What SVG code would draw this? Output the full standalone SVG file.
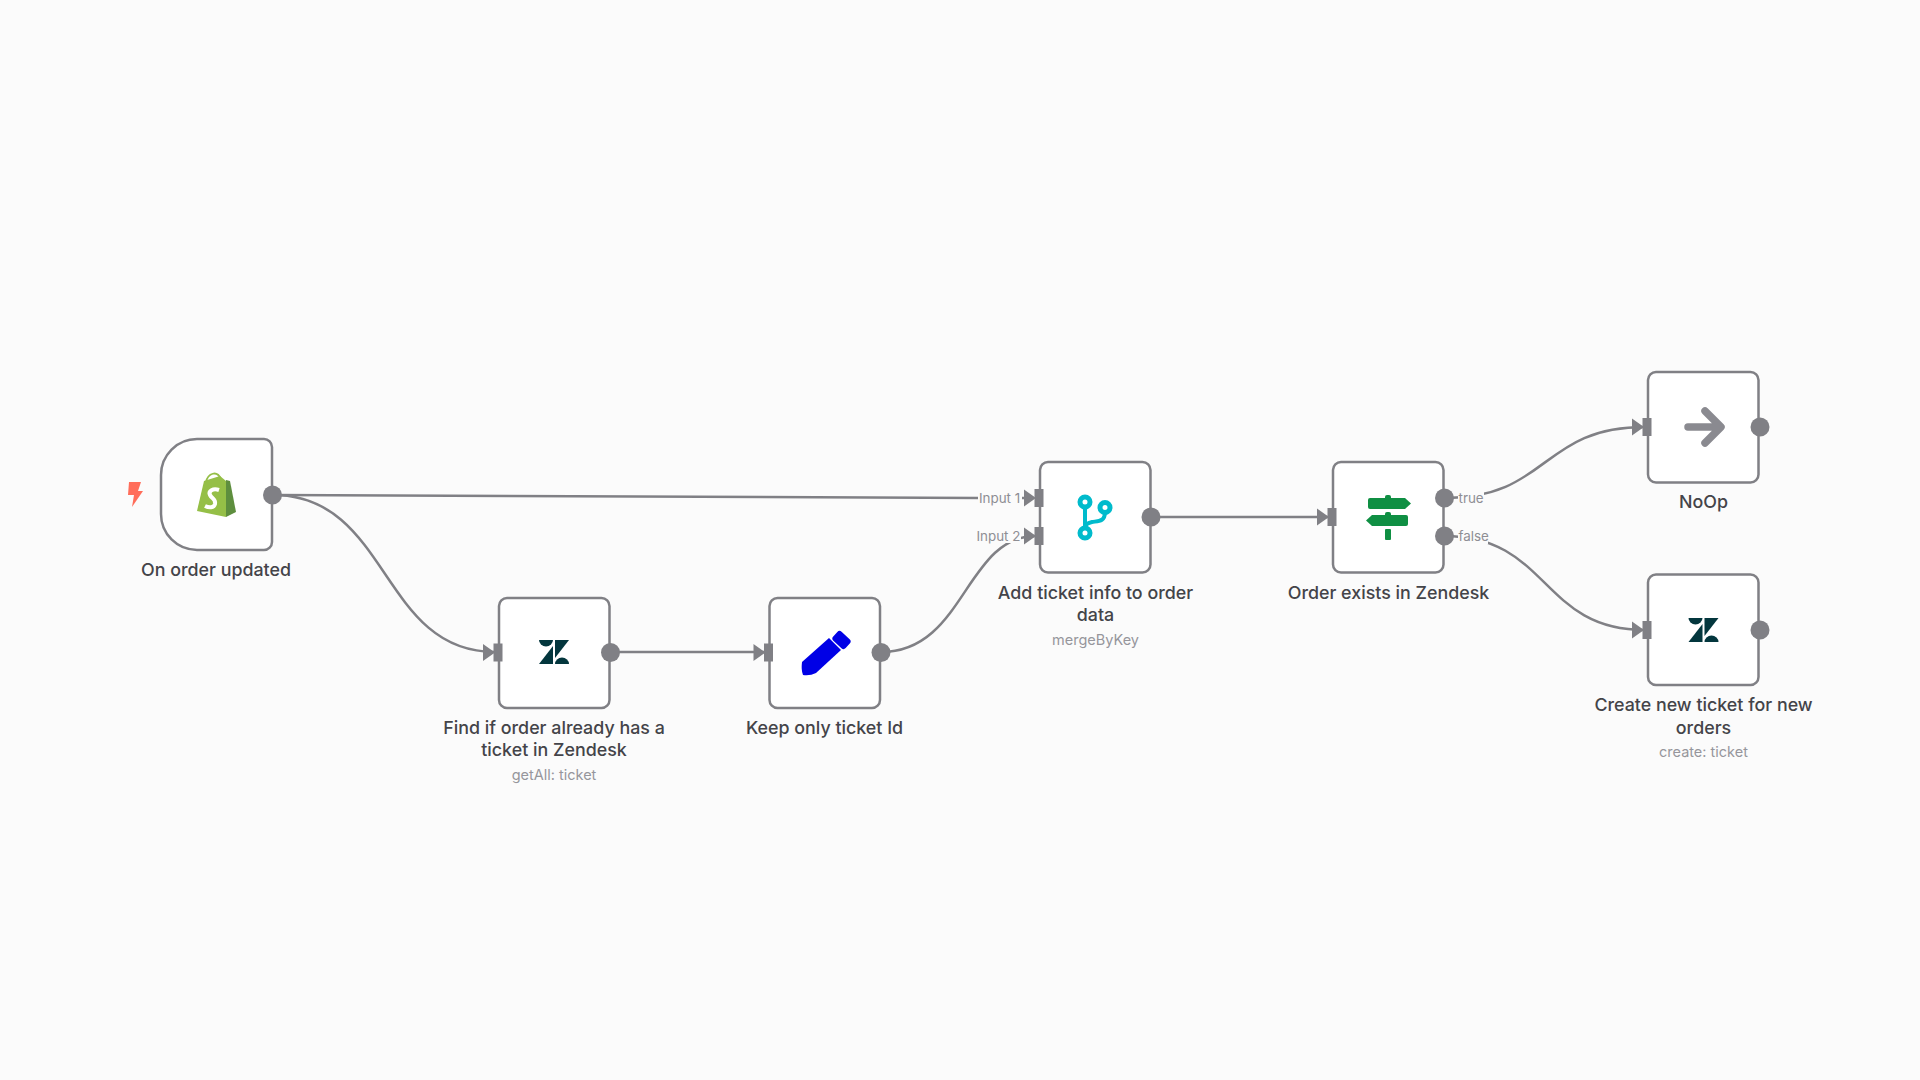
<svg xmlns="http://www.w3.org/2000/svg" width="1920" height="1080" viewBox="0 0 1920 1080">
<style>
.box{fill:#fff;stroke:#808085;stroke-width:2.5}
.wire{fill:none;stroke:#808085;stroke-width:2.5}
.dot{fill:#808085}
.title{font-family:Inter,"Liberation Sans",sans-serif;font-size:17.85px;font-weight:500;fill:#444449;text-anchor:middle}
.sub{font-family:Inter,"Liberation Sans",sans-serif;font-size:14.5px;fill:#96969c;text-anchor:middle}
.port{font-family:Inter,"Liberation Sans",sans-serif;font-size:13.4px;fill:#8e8e94}
.mask{fill:#fbfbfb}
.zd{fill:#03363d}
</style>
<defs>
<g id="zd">
<path class="zd" d="M0 0H14A7 6.500 0 0 1 0 0Z"/>
<path class="zd" d="M14 6V24H0Z"/>
<path class="zd" d="M16 0H30L16 18Z"/>
<path class="zd" d="M16 24A7 6.500 0 0 1 30 24Z"/>
</g>
<g id="in"><path class="dot" d="M-15 -8.500L-3 0L-15 8.500Z"/><rect class="dot" x="-4.500" y="-9" width="9" height="18"/></g>
</defs>
<rect width="1920" height="1080" fill="#fbfbfb"/>
<g id="connectors">
<path class="wire" d="M273 495L980 498"/>
<path class="wire" d="M980 498H1030"/>
<path class="wire" d="M273 495C390 495 380 652 495 652"/>
<path class="wire" d="M611 652H765"/>
<path class="wire" d="M881 652C965 652 965 536 1036 536"/>
<path class="wire" d="M1151 517H1330"/>
<path class="wire" d="M1444 498C1550 498 1540 427 1645 427"/>
<path class="wire" d="M1444 536C1550 536 1540 630 1645 630"/>
<rect class="mask" x="978" y="489" width="44" height="18"/>
<rect class="mask" x="975" y="527" width="46" height="16"/>
<rect class="mask" x="1458" y="489" width="26" height="18"/>
<rect class="mask" x="1458" y="527" width="30" height="17"/>
<text class="port" x="979" y="503">Input 1</text>
<text class="port" x="976.500" y="541">Input 2</text>
<text class="port" x="1458.500" y="503">true</text>
<text class="port" x="1458.500" y="541">false</text>
</g>
<g id="node-on-order-updated">
<path class="box" d="M197 439H264A8 8 0 0 1 272 447V542A8 8 0 0 1 264 550H197A36 36 0 0 1 161 514V475A36 36 0 0 1 197 439Z"/>
<path fill="#ff6d5a" d="M129 482H141L138 491H143L132 507L134 495H128Z"/>
<path fill="#95bf47" d="M204 481L220 476L226 481L226 517L197 511Z"/>
<path fill="#5e8e3e" d="M226 480L230 481L236 512L226 517Z"/>
<path fill="none" stroke="#95bf47" stroke-width="1.800" d="M206 482C208 473 217 470 221 479"/>
<path fill="none" stroke="#fff" stroke-width="4" d="M219 490C213 488 208 491 210 495C212 499 216 499 215 504C214 508 209 508 205 506"/>
<circle class="dot" cx="272.500" cy="495" r="9.500"/>
<text class="title" x="216" y="576">On order updated</text>
</g>
<g id="node-find-ticket">
<rect class="box" x="499" y="598" width="110.500" height="110" rx="8"/>
<use href="#in" x="498" y="652.500"/>
<use href="#zd" x="539" y="640"/>
<circle class="dot" cx="610.500" cy="652.500" r="9.500"/>
<text class="title" x="554" y="734">Find if order already has a</text>
<text class="title" x="554" y="756">ticket in Zendesk</text>
<text class="sub" x="554" y="780">getAll: ticket</text>
</g>
<g id="node-keep-ticket-id">
<rect class="box" x="769.500" y="598" width="110.500" height="110" rx="8"/>
<use href="#in" x="768.500" y="652.500"/>
<path fill="#0000e6" d="M802 662L829 638L841 650L816 673Q810 676 803 675Q801 670 802 662Z"/>
<rect fill="#0000e6" x="833" y="634" width="17" height="12" rx="3" transform="rotate(43 841.500 640)"/>
<circle class="dot" cx="881" cy="652.500" r="9.500"/>
<text class="title" x="824.500" y="734">Keep only ticket Id</text>
</g>
<g id="node-add-ticket-info">
<rect class="box" x="1040" y="462" width="110.500" height="110.500" rx="8"/>
<use href="#in" x="1039" y="498"/>
<use href="#in" x="1039" y="536"/>
<path fill="none" stroke="#00bbcc" stroke-width="4" d="M1085 507V528M1105 512C1105 522 1098 521 1092 522C1087 523 1085 525 1085 528"/>
<g fill="#fff" stroke="#00bbcc" stroke-width="5"><circle cx="1085" cy="502" r="5"/><circle cx="1105" cy="507.500" r="5"/><circle cx="1085" cy="533" r="5"/></g>
<circle class="dot" cx="1151" cy="517" r="9.500"/>
<text class="title" x="1095.500" y="599">Add ticket info to order</text>
<text class="title" x="1095.500" y="621">data</text>
<text class="sub" x="1095.500" y="645">mergeByKey</text>
</g>
<g id="node-order-exists">
<rect class="box" x="1333" y="462" width="110.500" height="110.500" rx="8"/>
<use href="#in" x="1332" y="517"/>
<g fill="#0f8f43">
<path d="M1370 498H1405L1411 503.500L1405 509H1370Q1368 509 1368 507V500Q1368 498 1370 498Z"/>
<path d="M1372 515H1406Q1408 515 1408 517V524Q1408 526 1406 526H1372L1366 520.500Z"/>
<rect x="1385" y="495" width="6" height="5" rx="2"/>
<rect x="1385" y="512" width="6" height="5" rx="2"/>
<rect x="1385" y="529" width="6" height="11" rx="1"/>
</g>
<circle class="dot" cx="1444.500" cy="498" r="9.500"/>
<circle class="dot" cx="1444.500" cy="536" r="9.500"/>
<text class="title" x="1388.500" y="599">Order exists in Zendesk</text>
</g>
<g id="node-noop">
<rect class="box" x="1648" y="372" width="110.500" height="110.500" rx="8"/>
<use href="#in" x="1647" y="427"/>
<path fill="none" stroke="#8a8a90" stroke-width="7.500" stroke-linecap="round" stroke-linejoin="round" d="M1688 427H1720M1705 411L1721 427L1705 443"/>
<circle class="dot" cx="1760" cy="427" r="9.500"/>
<text class="title" x="1703.500" y="508">NoOp</text>
</g>
<g id="node-create-ticket">
<rect class="box" x="1648" y="574.500" width="110.500" height="110.500" rx="8"/>
<use href="#in" x="1647" y="630"/>
<use href="#zd" x="1688.500" y="618"/>
<circle class="dot" cx="1760" cy="630" r="9.500"/>
<text class="title" x="1703.500" y="711">Create new ticket for new</text>
<text class="title" x="1703.500" y="734">orders</text>
<text class="sub" x="1703.500" y="757">create: ticket</text>
</g>
</svg>
